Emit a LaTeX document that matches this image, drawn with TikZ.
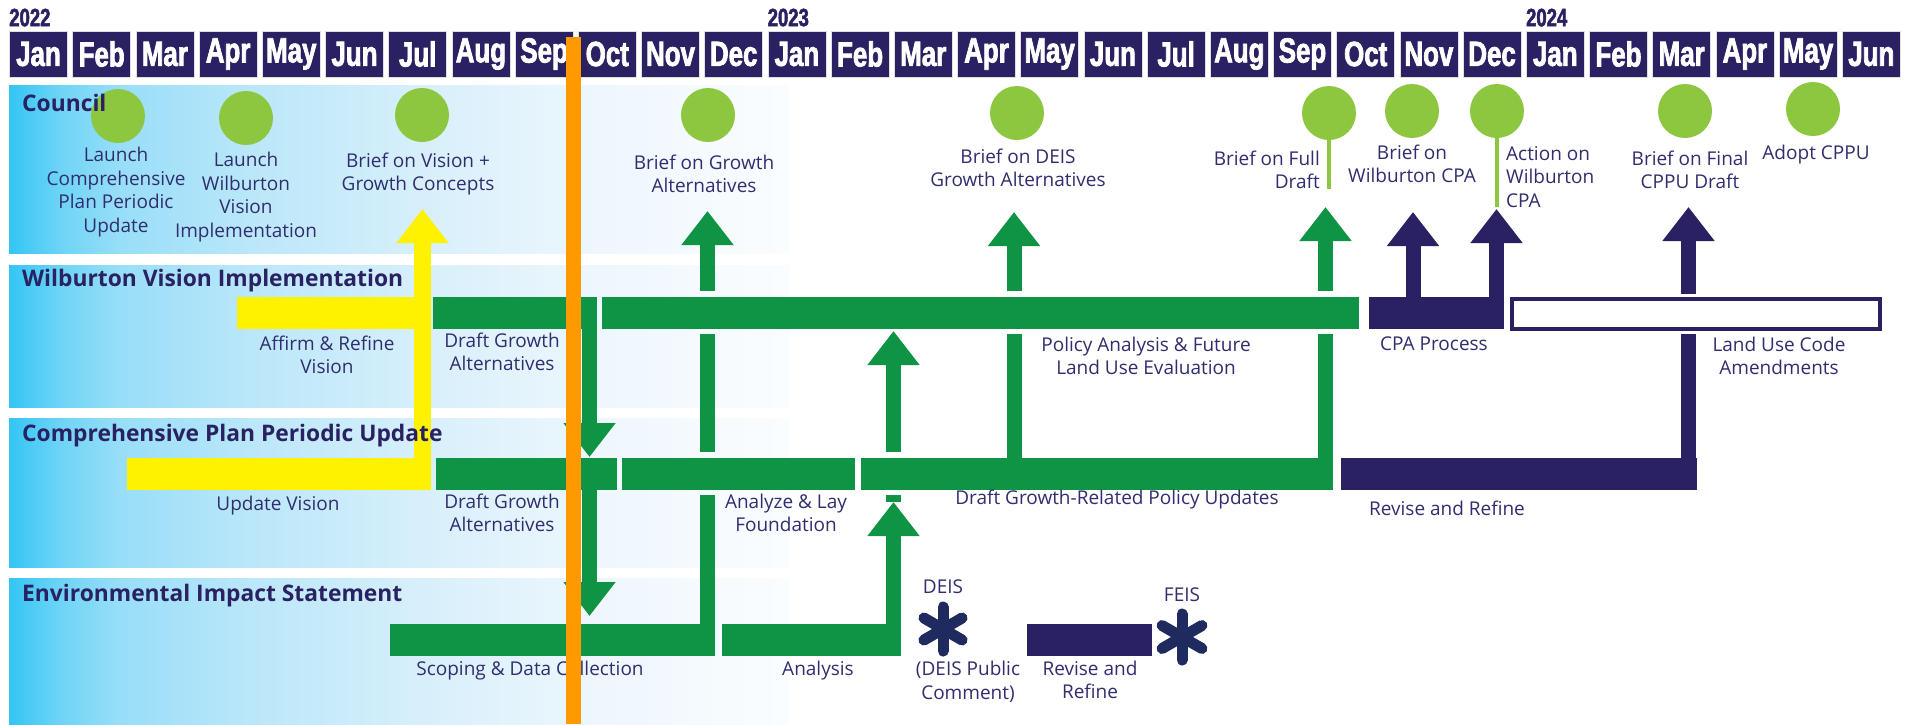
\documentclass[tikz,border=0pt]{standalone}
\usepackage{fontspec}
\setmainfont{Open Sans}
\newfontfamily\monthfont[FakeStretch=0.74,FakeBold=2]{Liberation Sans}
\usetikzlibrary{arrows.meta,calc}

\definecolor{navy}{RGB}{41,33,97}
\definecolor{textnavy}{RGB}{48,46,110}
\definecolor{bargreen}{RGB}{14,148,68}
\definecolor{dotgreen}{RGB}{141,198,63}
\definecolor{visionyellow}{RGB}{255,242,0}
\definecolor{todayorange}{RGB}{255,153,0}
\definecolor{starnavy}{RGB}{31,43,94}
\definecolor{laneA}{RGB}{52,197,245}
\definecolor{laneB}{RGB}{110,212,246}
\definecolor{laneC}{RGB}{152,222,248}
\definecolor{laneD}{RGB}{186,231,249}
\definecolor{laneE}{RGB}{215,239,251}
\definecolor{laneF}{RGB}{238,247,253}
\definecolor{laneG}{RGB}{250,253,255}

\begin{document}
\begin{tikzpicture}[x=1pt,y=-1pt,
  month/.style={fill=navy,draw=white!75!gray,line width=0.8pt,minimum width=58pt,
    minimum height=46pt,inner sep=0pt,text=white,
    font=\monthfont\bfseries\fontsize{35}{35}\selectfont},
  year/.style={anchor=south west,inner sep=0pt,text=navy,
    font=\monthfont\bfseries\fontsize{25}{25}\selectfont},
  lanetitle/.style={anchor=west,inner sep=0pt,text=navy,
    font=\bfseries\fontsize{22.8}{26}\selectfont},
  note/.style={inner sep=0pt,align=center,text=textnavy,
    font=\fontsize{19}{23.5}\selectfont},
  bar/.style={anchor=north west,minimum height=32pt,inner sep=0pt,outer sep=0pt},
  greenbar/.style={bar,fill=bargreen},
  yellowbar/.style={bar,fill=visionyellow},
  navybar/.style={bar,fill=navy},
  openbar/.style={bar,minimum height=30pt,draw=navy,line width=3.5pt,fill=white},
  meeting/.style={circle,fill=dotgreen,minimum size=54pt,inner sep=0pt},
  stem/.style={draw=dotgreen,line width=4pt},
  shaft/.style={line width=15pt},
  headed/.style={shaft,-{Triangle[width=50pt,length=34pt]}},
  asterisk/.style={draw=starnavy,line width=11pt,line cap=round},
  today/.style={draw=todayorange,line width=15pt}]

  \useasboundingbox (0,0) rectangle (1905,724);
  \fill[white] (0,0) rectangle (1905,724);

  % swim lanes
  \foreach \ya/\yb in {85/253,265/407,418/567,578/724}
    \foreach \xa/\xb/\ca/\cb in {9/60/laneA/laneB,60/120/laneB/laneC,120/250/laneC/laneD,
        250/420/laneD/laneE,420/600/laneE/laneF,600/788/laneF/laneG}
      \shade[left color=\ca,right color=\cb] (\xa,\ya) rectangle (\xb+0.6,\yb);

  % month header
  \foreach \m [count=\i from 0] in {Jan,Feb,Mar,Apr,May,Jun,Jul,Aug,Sep,Oct,Nov,Dec,
      Jan,Feb,Mar,Apr,May,Jun,Jul,Aug,Sep,Oct,Nov,Dec,Jan,Feb,Mar,Apr,May,Jun}
    \node[month] (m\i) at ({38.5+63.2*\i},54) {\m};
  \node[year] (y2022) at ([yshift=4pt]m0.north west) {2022};
  \node[year] (y2023) at ([yshift=4pt]m12.north west) {2023};
  \node[year] (y2024) at ([yshift=4pt]m24.north west) {2024};

  % council meetings
  \foreach \x/\y [count=\i] in {118/116,246/118,422/115,708/115,1017/113,
      1329/113,1412/111,1497/111,1685/111,1813/109}
    \node[meeting] (c\i) at (\x,\y) {};
  \draw[stem] (c6.south) -- ++(0,49);
  \draw[stem] (c8.south) -- ++(0,69);

  % bars
  \node[yellowbar,minimum width=194pt] (wilVision) at (237,297) {};
  \node[greenbar,minimum width=164pt] (wilGA) at (433,297) {};
  \node[greenbar,minimum width=757pt] (wilPolicy) at (602,297) {};
  \node[navybar,minimum width=135pt] (wilCPA) at (1369,297) {};
  \node[openbar,minimum width=368pt] (wilLUC) at (1512,299) {};
  \node[yellowbar,minimum width=304pt] (cpVision) at (127,458) {};
  \node[greenbar,minimum width=181pt] (cpGA) at (436,458) {};
  \node[greenbar,minimum width=233pt] (cpFound) at (622,458) {};
  \node[greenbar,minimum width=472pt] (cpPolicy) at (861,458) {};
  \node[navybar,minimum width=356pt] (cpRefine) at (1341,458) {};
  \node[greenbar,minimum width=325pt] (eisScope) at (390,624) {};
  \node[greenbar,minimum width=179pt] (eisAnalysis) at (722,624) {};
  \node[navybar,minimum width=125pt] (eisRefine) at (1027,624) {};

  % arrow tips
  \coordinate (tipY) at (422.5,209);
  \coordinate (tipA) at (707.5,211);
  \coordinate (tipB) at (1014,212);
  \coordinate (tipC) at (893.5,331);
  \coordinate (tipC2) at (893.5,502);
  \coordinate (tipD) at (1325.5,207);
  \coordinate (tipE) at (1413,212);
  \coordinate (tipE2) at (1496.5,209);
  \coordinate (tipN) at (1688.5,207);
  \coordinate (tipDn) at (589.5,457);
  \coordinate (tipDn2) at (589.5,616);

  % yellow
  \draw[headed,draw=visionyellow,line width=17pt] (cpVision.south east -| tipY) -- (tipY);
  % green
  \draw[headed,draw=bargreen] (wilGA.north east -| tipDn) -- (tipDn);
  \draw[headed,draw=bargreen] (cpGA.north -| tipDn2) -- (tipDn2);
  \draw[shaft,draw=bargreen] (eisScope.north east -| tipA) -- ($(cpFound.south -| tipA)+(0,5)$);
  \draw[shaft,draw=bargreen] ($(cpFound.north -| tipA)+(0,-6)$) -- ($(wilPolicy.south -| tipA)+(0,5)$);
  \draw[headed,draw=bargreen] ($(wilPolicy.north -| tipA)+(0,-6)$) -- (tipA);
  \draw[shaft,draw=bargreen] (cpPolicy.north -| tipB) -- ($(wilPolicy.south -| tipB)+(0,5)$);
  \draw[headed,draw=bargreen] ($(wilPolicy.north -| tipB)+(0,-6)$) -- (tipB);
  \draw[shaft,draw=bargreen] ($(cpPolicy.south -| tipC2)+(0,5)$) -- (tipC2);
  \draw[headed,draw=bargreen] (eisAnalysis.north east -| tipC2) -- (tipC2);
  \draw[headed,draw=bargreen] ($(cpPolicy.north -| tipC)+(0,-6)$) -- (tipC);
  \draw[shaft,draw=bargreen] (cpPolicy.south east -| tipD) -- ($(wilPolicy.south -| tipD)+(0,5)$);
  \draw[headed,draw=bargreen] ($(wilPolicy.north -| tipD)+(0,-6)$) -- (tipD);
  % navy
  \draw[headed,draw=navy] (wilCPA.north -| tipE) -- (tipE);
  \draw[headed,draw=navy] (wilCPA.north east -| tipE2) -- (tipE2);
  \draw[shaft,draw=navy] (cpRefine.south east -| tipN) -- ($(wilLUC.south -| tipN)+(0,5)$);
  \draw[headed,draw=navy] ($(wilLUC.north -| tipN)+(0,-5)$) -- (tipN);

  % EIS milestones
  \coordinate (deis) at (943,629);
  \coordinate (feis) at (1182,637);
  \foreach \a in {90,30,150} {
    \draw[asterisk] ($(deis)+(\a:22)$) -- ($(deis)-(\a:22)$);
    \draw[asterisk] ($(feis)+(\a:23)$) -- ($(feis)-(\a:23)$);
  }

  % lane titles
  \node[lanetitle] (tCouncil) at (22,103) {Council};
  \node[lanetitle] (tWilburton) at (22,281) {Wilburton Vision Implementation};
  \node[lanetitle] (tUpdate) at (22,436) {Comprehensive Plan Periodic Update};
  \node[lanetitle] (tEIS) at (22,596) {Environmental Impact Statement};

  % council labels
  \node[note] (n1) at (116,192) {Launch\\Comprehensive\\Plan Periodic\\Update};
  \node[note] (n2) at (246,197) {Launch\\Wilburton\\Vision\\Implementation};
  \node[note] (n3) at (418,174) {Brief on Vision +\\Growth Concepts};
  \node[note] (n4) at (704,174) {Brief on Growth\\Alternatives};
  \node[note] (n5) at (1018,168) {Brief on DEIS\\Growth Alternatives};
  \node[note,anchor=east,align=right] (n6) at (1320,170) {Brief on Full\\Draft};
  \node[note] (n7) at (1412,164) {Brief on\\Wilburton CPA};
  \node[note,anchor=west,align=left] (n8) at (1506,177) {Action on\\Wilburton\\CPA};
  \node[note] (n9) at (1690,170) {Brief on Final\\CPPU Draft};
  \node[note] (n10) at (1816,155) {Adopt CPPU};

  % bar labels
  \node[note] (lAffirm) at (327,355) {Affirm \& Refine\\Vision};
  \node[note] (lWilGA) at (502,352) {Draft Growth\\Alternatives};
  \node[note] (lPolicy) at (1146,356) {Policy Analysis \& Future\\Land Use Evaluation};
  \node[note] (lCPA) at (1434,344) {CPA Process};
  \node[note] (lLUC) at (1779,356) {Land Use Code\\Amendments};
  \node[note] (lUpdate) at (278,506) {Update Vision};
  \node[note] (lCpGA) at (502,513) {Draft Growth\\Alternatives};
  \node[note] (lFound) at (786,513) {Analyze \& Lay\\Foundation};
  \node[note] (lRelated) at (1117,500) {Draft Growth-Related Policy Updates};
  \node[note] (lRefine) at (1447,508) {Revise and Refine};
  \node[note] (lScope) at (530,671) {Scoping \& Data Collection};
  \node[note] (lAnalysis) at (818,671) {Analysis};
  \node[note] (lDeis) at (943,587) {DEIS};
  \node[note] (lComment) at (968,682) {(DEIS Public\\Comment)};
  \node[note] (lEisRefine) at (1090,680) {Revise and\\Refine};
  \node[note] (lFeis) at (1182,595) {FEIS};

  % status line
  \draw[today] (573.5,37) -- (573.5,724);
\end{tikzpicture}
\end{document}
